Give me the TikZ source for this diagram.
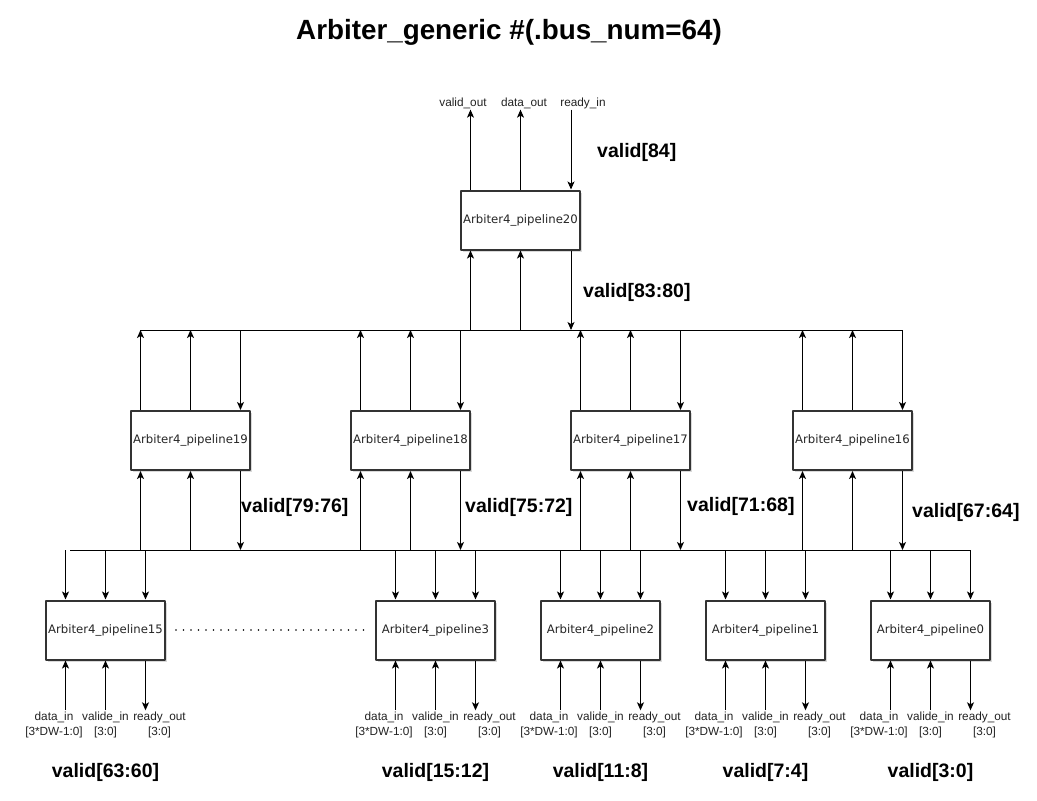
\documentclass[tikz,border=0pt]{standalone}
\usepackage{fontspec}
\setmainfont{Liberation Sans}
\newfontfamily\boxfont{DejaVu Sans}
\usetikzlibrary{arrows.meta,shadows}
\definecolor{boxline}{HTML}{333333}
\definecolor{txt}{HTML}{222222}

\begin{document}
\begin{tikzpicture}[line cap=round,line join=round,>={Stealth[length=8pt,width=7pt,inset=2pt]},x=1pt,y=-1pt,
  arb/.style={draw=boxline,line width=2pt,fill=white,minimum width=119pt,minimum height=59pt,inner sep=0pt,
    font=\boxfont\fontsize{11.7}{14}\selectfont,text=black!85,
    drop shadow={shadow xshift=2pt,shadow yshift=-2pt,opacity=0.3,fill=gray}},
  wire/.style={line width=1pt,line cap=butt},
  port/.style={font=\fontsize{11.8}{15}\selectfont,text=txt,inner sep=1pt,align=center},
  vlab/.style={font=\bfseries\fontsize{19.5}{22}\selectfont,inner sep=0pt}]
\useasboundingbox (0,0) rectangle (1037,801);

\node[font=\bfseries\fontsize{27.8}{32}\selectfont] (title) at (509,32) {Arbiter\_generic \#(.bus\_num=64)};

% top arbiter
\node[arb] (p20) at (520.5,220) {Arbiter4\_pipeline20};
\node[port] (vout) at (463,103) {valid\_out};
\node[port] (dout) at (524,103) {data\_out};
\node[port] (rin) at (583,103) {ready\_in};
\draw[wire,->] ([xshift=-50pt]p20.north) -- ([xshift=-50pt]p20.north |- vout.south);
\draw[wire,->] (p20.north) -- (p20.north |- dout.south);
\draw[wire,->] ([xshift=50.5pt]p20.north |- rin.south) -- ([xshift=50.5pt]p20.north);
\node[vlab,anchor=west] (l20) at (597,152) {valid[84]};

% first bus
\coordinate (b1l) at (140,330);
\coordinate (b1r) at (902,330);
\draw[wire] (b1l) -- (b1r);
\draw[wire,<-] ([xshift=-50pt]p20.south) -- ([xshift=-50pt]p20.south |- b1l);
\draw[wire,<-] (p20.south) -- (p20.south |- b1l);
\draw[wire,->] ([xshift=50.5pt]p20.south) -- ([xshift=50.5pt]p20.south |- b1l);
\node[vlab,anchor=west] (l2080) at (583,292) {valid[83:80]};

% second bus
\coordinate (b2l) at (70,550);
\coordinate (b2r) at (970,550);
\draw[wire] (b2l) -- (b2r);

% middle row
\foreach \n/\x/\lab/\lx/\ly in {19/190.5/79:76/241/507, 18/410.5/75:72/465/507,
    17/630.5/71:68/687/506, 16/852.5/67:64/912/512}{
  \node[arb] (p\n) at (\x,440.5) {Arbiter4\_pipeline\n};
  \draw[wire,->] ([xshift=-50pt]p\n.north) -- ([xshift=-50pt]p\n.north |- b1l);
  \draw[wire,->] (p\n.north) -- (p\n.north |- b1l);
  \draw[wire,->] ([xshift=50pt]p\n.north |- b1l) -- ([xshift=50pt]p\n.north);
  \draw[wire,<-] ([xshift=-50pt]p\n.south) -- ([xshift=-50pt]p\n.south |- b2l);
  \draw[wire,<-] (p\n.south) -- (p\n.south |- b2l);
  \draw[wire,->] ([xshift=50pt]p\n.south) -- ([xshift=50pt]p\n.south |- b2l);
  \node[vlab,anchor=west] (l\n) at (\lx,\ly) {valid[\lab]};
}

% bottom row
\foreach \n/\x/\lab in {15/105.5/63:60, 3/435.5/15:12, 2/600.5/11:8, 1/765.5/7:4, 0/930.5/3:0}{
  \node[arb] (p\n) at (\x,630) {Arbiter4\_pipeline\n};
  \draw[wire,<-] ([xshift=-40pt]p\n.north) -- ([xshift=-40pt]p\n.north |- b2l);
  \draw[wire,<-] (p\n.north) -- (p\n.north |- b2l);
  \draw[wire,->] ([xshift=40pt]p\n.north |- b2l) -- ([xshift=40pt]p\n.north);
  \node[port] (din\n) at (\x-51.5,724.5) {data\_in\\{[3*DW-1:0]}};
  \node[port] (vin\n) at (\x,724.5) {valide\_in\\{[3:0]}};
  \node[port] (rout\n) at (\x+54,724.5) {ready\_out\\{[3:0]}};
  \draw[wire,->] ([xshift=-40pt]p\n.south |- din\n.north) -- ([xshift=-40pt]p\n.south);
  \draw[wire,->] (p\n.south |- vin\n.north) -- (p\n.south);
  \draw[wire,->] ([xshift=40pt]p\n.south) -- ([xshift=40pt]p\n.south |- rout\n.north);
  \node[vlab] (v\n) at (\x,772) {valid[\lab]};
}

\draw[line width=1.6pt,dash pattern=on 0pt off 7.5pt,line cap=round,shorten <=10pt,shorten >=4pt] (p15) -- (p3);
\end{tikzpicture}
\end{document}
